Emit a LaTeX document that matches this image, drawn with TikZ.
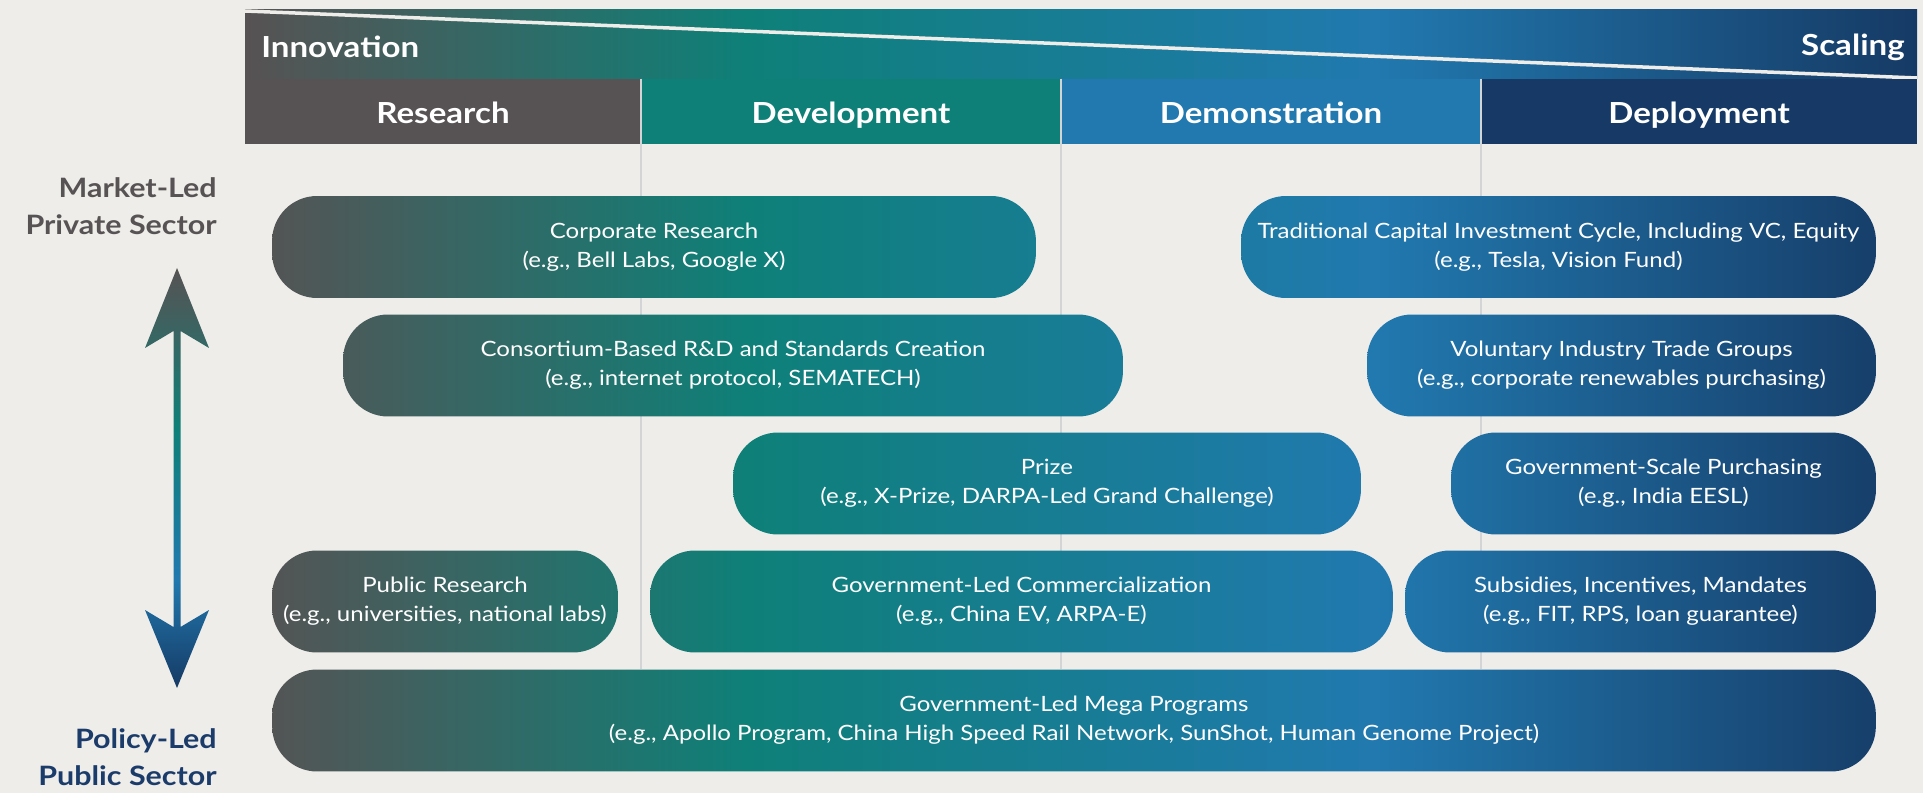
\documentclass[tikz,border=0pt]{standalone}
\usepackage{fontspec}
\setmainfont{Lato}[FakeStretch=1.14]
\usetikzlibrary{positioning}
\definecolor{bg}{HTML}{EEEDE9}
\definecolor{cGray}{HTML}{575253}
\definecolor{cTeal}{HTML}{0E8078}
\definecolor{cBlue}{HTML}{2179AF}
\definecolor{cNavy}{HTML}{163A65}
\definecolor{cGrid}{HTML}{D2D4D6}
\definecolor{cPolicy}{HTML}{1B3C6A}
\pgfdeclarehorizontalshading{spectrum}{100bp}{color(0bp)=(cGray); color(25bp)=(cGray); color(40bp)=(cTeal); color(58.8bp)=(cBlue); color(75bp)=(cNavy); color(100bp)=(cNavy)}
\pgfdeclareverticalshading{updown}{100bp}{color(0bp)=(cNavy); color(25bp)=(cNavy); color(38bp)=(cBlue); color(56bp)=(cTeal); color(75bp)=(cGray); color(100bp)=(cGray)}

\begin{document}
\begin{tikzpicture}[x=0.02cm,y=-0.02cm,
  hdr/.style={minimum height=1.30cm,inner sep=0pt,text=white,text height=13.6pt,text depth=0pt,font=\fontsize{16.5}{20}\selectfont\bfseries},
  side/.style={anchor=east,align=right,inner sep=0pt,font=\fontsize{15.2}{21}\selectfont\bfseries},
  pill/.style={minimum height=2.04cm,inner sep=0pt,rounded corners=0.9cm,align=center,text=white,
    font=\fontsize{12}{16.5}\selectfont,path picture={\shade[shading=spectrum] (gL) rectangle (gR);}},
  grid/.style={cGrid,line width=0.04cm}]
\fill[bg] (0,0) rectangle (1923,793);
\coordinate (gL) at (245,0);
\coordinate (gR) at (1917,793);
\coordinate (gB) at (245,669);
% innovation -> scaling banner
\shade[shading=spectrum] (245,10) rectangle (1917,79);
\draw[bg,line width=0.07cm] (245,11) -- (1917,78);
\node[anchor=west,inner sep=0pt,text=white,font=\fontsize{16.5}{20}\selectfont\bfseries] (inno) at (261,47) {Innovation};
\node[anchor=east,inner sep=0pt,text=white,font=\fontsize{16.5}{20}\selectfont\bfseries] (scal) at (1905,47) {Scaling};
% stage headers
\node[hdr,fill=cGray,minimum width=7.92cm] (res) at (443,111.5) {Research};
\node[hdr,fill=cTeal,minimum width=8.40cm] (dev) at (851,111.5) {Development};
\node[hdr,fill=cBlue,minimum width=8.40cm] (dem) at (1271,111.5) {Demonstration};
\node[hdr,fill=cNavy,minimum width=8.72cm] (dep) at (1699,111.5) {Deployment};
\draw[grid] (res.north east) -- (res.north east |- gB);
\draw[grid] (dev.north east) -- (dev.north east |- gB);
\draw[grid] (dem.north east) -- (dem.north east |- gB);
% side labels and arrow
\node[side,text=cGray] (mkt) at (217,206) {Market-Led\\Private Sector};
\node[side,text=cPolicy] (pol) at (217,757.5) {Policy-Led\\Public Sector};
\shade[shading=updown] (177,268) -- (209,348) -- (180.5,331) -- (180.5,627) -- (209,610) -- (177,688)
  -- (145,610) -- (173.5,627) -- (173.5,331) -- (145,348) -- cycle;
% mechanisms
\node[pill,minimum width=15.28cm] (corp) at (654,247) {Corporate Research\\(e.g., Bell Labs, Google X)};
\node[pill,minimum width=12.70cm] (vc) at (1558.5,247) {Traditional Capital Investment Cycle, Including VC, Equity\\(e.g., Tesla, Vision Fund)};
\node[pill,minimum width=15.60cm] (cons) at (733,365.5) {Consortium-Based R\&D and Standards Creation\\(e.g., internet protocol, SEMATECH)};
\node[pill,minimum width=10.18cm] (trade) at (1621.5,365.5) {Voluntary Industry Trade Groups\\(e.g., corporate renewables purchasing)};
\node[pill,minimum width=12.56cm] (prize) at (1047,483.5) {Prize\\(e.g., X-Prize, DARPA-Led Grand Challenge)};
\node[pill,minimum width=8.50cm] (purch) at (1663.5,483.5) {Government-Scale Purchasing\\(e.g., India EESL)};
\node[pill,minimum width=6.92cm] (pubr) at (445,601.5) {Public Research\\(e.g., universities, national labs)};
\node[pill,minimum width=14.86cm] (comm) at (1021.5,601.5) {Government-Led Commercialization\\(e.g., China EV, ARPA-E)};
\node[pill,minimum width=9.42cm] (subs) at (1640.5,601.5) {Subsidies, Incentives, Mandates\\(e.g., FIT, RPS, loan guarantee)};
\node[pill,minimum width=32.08cm] (mega) at (1074,720.5) {Government-Led Mega Programs\\(e.g., Apollo Program, China High Speed Rail Network, SunShot, Human Genome Project)};
\end{tikzpicture}
\end{document}
